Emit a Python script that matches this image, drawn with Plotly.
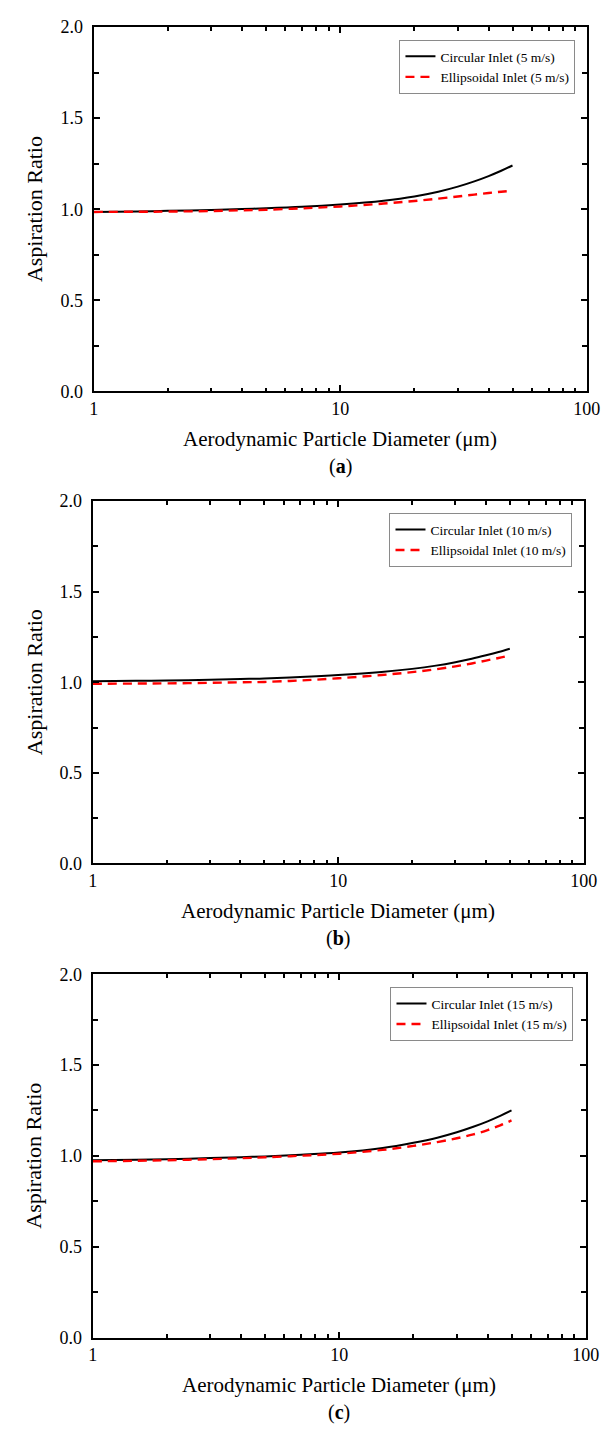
import plotly.graph_objects as go

# ---------------- data ----------------
diameter = [1, 1.5, 2, 3, 4, 5, 7, 10, 15, 20, 25, 30, 35, 40, 45, 50]

circ_5 = [0.985, 0.988, 0.991, 0.996, 1.001, 1.005, 1.013, 1.026, 1.047, 1.070, 1.096, 1.124, 1.153, 1.182, 1.211, 1.240]
ell_5 = [0.985, 0.986, 0.987, 0.990, 0.994, 0.997, 1.005, 1.015, 1.031, 1.045, 1.058, 1.070, 1.080, 1.089, 1.096, 1.102]

circ_10 = [1.006, 1.008, 1.010, 1.014, 1.018, 1.021, 1.029, 1.040, 1.057, 1.074, 1.092, 1.111, 1.130, 1.149, 1.167, 1.185]
ell_10 = [0.992, 0.993, 0.994, 0.997, 1.000, 1.002, 1.010, 1.022, 1.040, 1.056, 1.072, 1.088, 1.104, 1.120, 1.134, 1.148]

circ_15 = [0.976, 0.979, 0.982, 0.988, 0.993, 0.997, 1.006, 1.018, 1.043, 1.072, 1.100, 1.130, 1.160, 1.190, 1.220, 1.250]
ell_15 = [0.970, 0.973, 0.976, 0.982, 0.987, 0.992, 1.001, 1.012, 1.033, 1.055, 1.076, 1.097, 1.118, 1.142, 1.168, 1.195]

speeds = ["5", "10", "15"]
panel_labels = ["a", "b", "c"]
x_title = "Aerodynamic Particle Diameter (μm)"
y_title = "Aspiration Ratio"
y_ticks = [0.0, 0.5, 1.0, 1.5, 2.0]
x_ticks = [1, 10, 100]

series = [(circ_5, ell_5), (circ_10, ell_10), (circ_15, ell_15)]

# ---------------- layout geometry ----------------
W, H = 604, 1437
FONT = "Liberation Serif, Times New Roman, DejaVu Serif, serif"
# target positions measured on the reference picture (pixels)
panels_ref = [  # (left, right, top, bottom)
    (94, 589, 25, 390),
    (93, 586, 500, 863),
    (93, 588, 974, 1338),
]
legend_ref = [(401, 38), (391, 512), (392, 987)]

# calibration of the rendered page to the photographed picture
SX, OX = 0.974, 5.0
SY, OY = 0.988, 8.0


def fx(v):
    return ((v - OX) / SX) / W


def fy(v):
    return 1 - (v / SY - OY) / H


fig = go.Figure()
layout = dict(
    width=W, height=H,
    margin=dict(l=0, r=0, t=0, b=0),
    paper_bgcolor="white", plot_bgcolor="white",
    font=dict(family=FONT, color="black"),
    showlegend=True,
    annotations=[],
)

for i, ((circ, ell), sp, lab) in enumerate(zip(series, speeds, panel_labels)):
    n = "" if i == 0 else str(i + 1)
    xa, ya = "x" + n, "y" + n
    lg = "legend" + n
    fig.add_trace(go.Scatter(
        x=diameter, y=circ, mode="lines", xaxis=xa, yaxis=ya,
        name=f"Circular Inlet ({sp} m/s)", legend=lg,
        line=dict(color="black", width=2, shape="spline", smoothing=1.0)))
    fig.add_trace(go.Scatter(
        x=diameter, y=ell, mode="lines", xaxis=xa, yaxis=ya,
        name=f"Ellipsoidal Inlet ({sp} m/s)", legend=lg,
        line=dict(color="#ff0000", width=2.4, dash="9px,6px", shape="spline", smoothing=1.0)))

    l, r, t, b = panels_ref[i]
    layout["xaxis" + n] = dict(
        domain=[fx(l), fx(r)], anchor=ya, type="log", range=[0, 2],
        tickvals=x_ticks, ticktext=[str(v) for v in x_ticks],
        ticks="inside", ticklen=6, tickwidth=1.5, tickcolor="black",
        minor=dict(ticks="inside", ticklen=3.5, tickwidth=1.5, tickcolor="black", dtick="D1", showgrid=False),
        showline=True, linewidth=2, linecolor="black", mirror="ticks",
        showgrid=False, zeroline=False,
        tickfont=dict(family=FONT, size=18, color="black"),
        ticklabelstandoff=0, ticklabeloverflow="allow",
    )
    layout["yaxis" + n] = dict(
        domain=[fy(b), fy(t)], anchor=xa, range=[0, 2],
        tickvals=y_ticks, ticktext=[f"{v:.1f}" for v in y_ticks],
        ticks="inside", ticklen=6, tickwidth=1.5, tickcolor="black",
        minor=dict(ticks="inside", ticklen=5, tickwidth=1.5, tickcolor="black", dtick=0.25, showgrid=False),
        showline=True, linewidth=2, linecolor="black", mirror="ticks",
        showgrid=False, zeroline=False,
        tickfont=dict(family=FONT, size=18, color="black"),
        ticklabelstandoff=5,
    )
    lx, ly = legend_ref[i]
    layout[lg] = dict(
        x=fx(lx), y=fy(ly), xanchor="left", yanchor="top",
        xref="paper", yref="paper",
        bgcolor="white", bordercolor="#8a8a8a", borderwidth=1,
        font=dict(family=FONT, size=13.5, color="black"),
        itemwidth=30, tracegroupgap=0,
    )
    cx = fx((l + r) / 2)
    layout["annotations"] += [
        dict(text=y_title, textangle=-90, x=fx(34), y=fy((t + b) / 2),
             xref="paper", yref="paper", xanchor="center", yanchor="middle", showarrow=False,
             font=dict(family=FONT, size=22, color="black")),
        dict(text=x_title, x=cx, y=fy(b + 48),
             xref="paper", yref="paper", xanchor="center", yanchor="middle", showarrow=False,
             font=dict(family=FONT, size=21, color="black")),
        dict(text=f"(<b>{lab}</b>)", x=cx, y=fy(b + 75),
             xref="paper", yref="paper", xanchor="center", yanchor="middle", showarrow=False,
             font=dict(family=FONT, size=20, color="black")),
    ]

fig.update_layout(**layout)
fig.write_html("out.html")
